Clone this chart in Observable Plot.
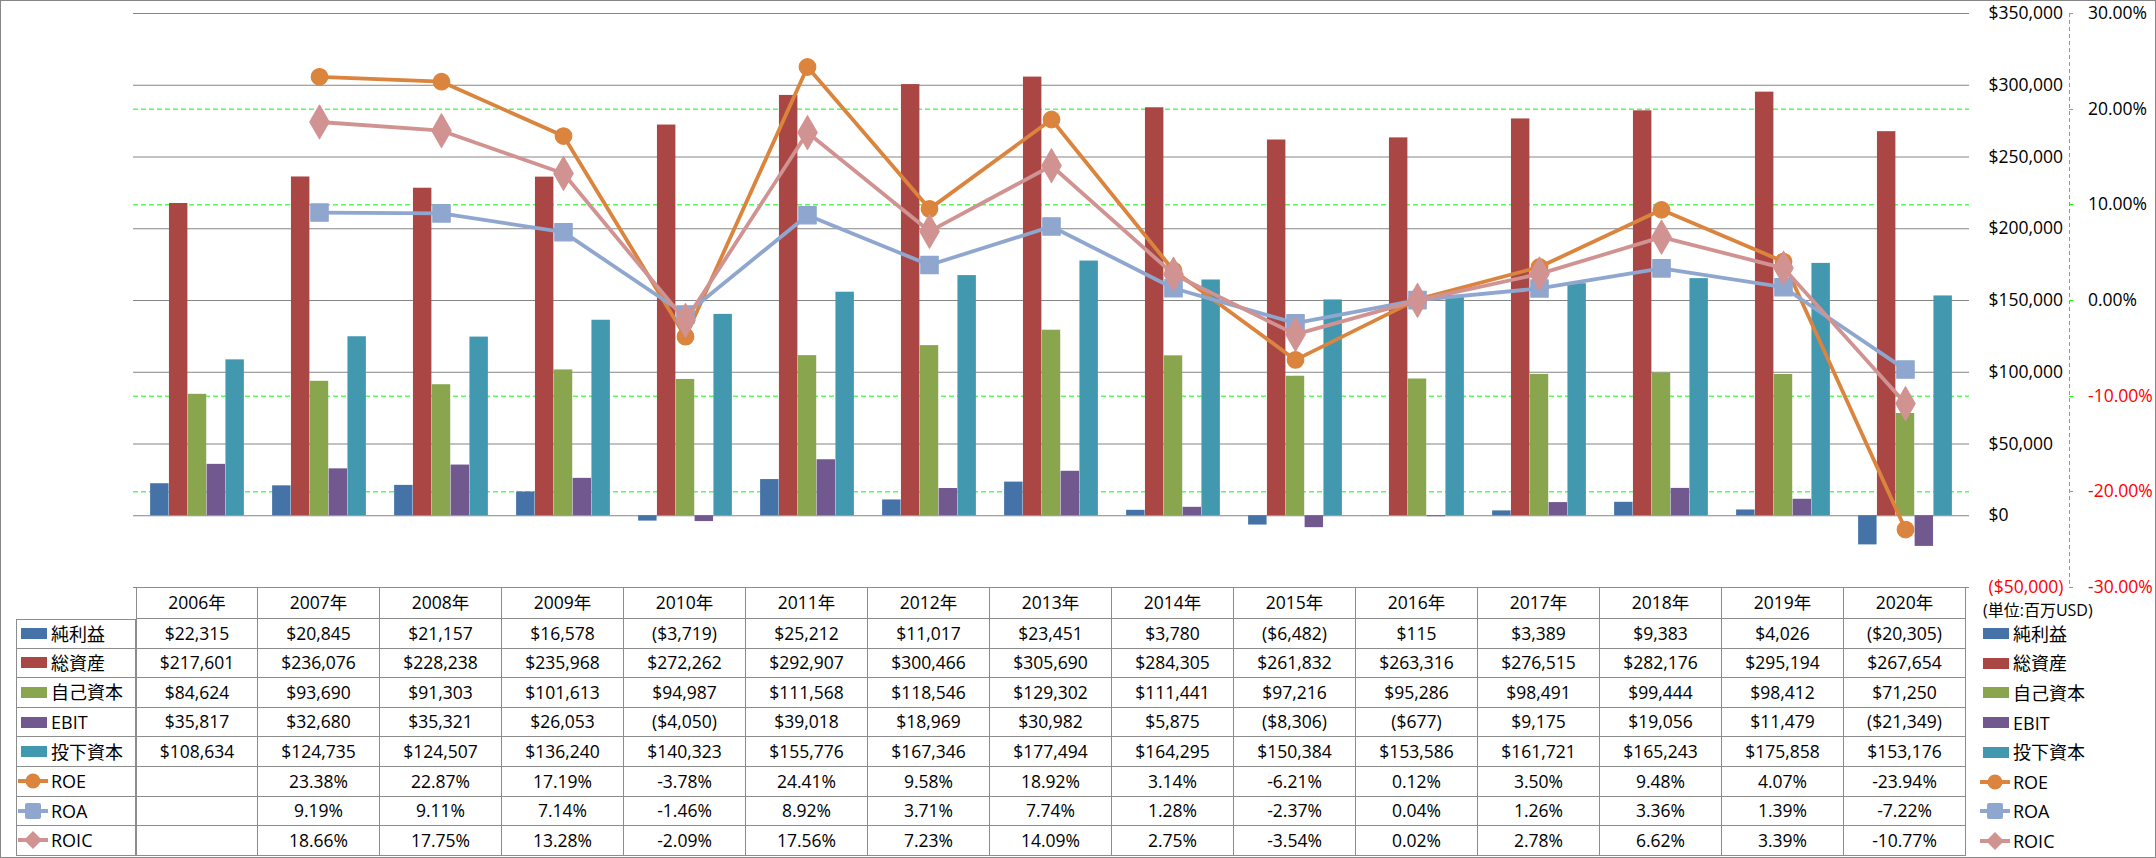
<!DOCTYPE html>
<html><head><meta charset="utf-8">
<script src="https://cdn.jsdelivr.net/npm/d3@7"></script>
<script src="https://cdn.jsdelivr.net/npm/@observablehq/plot@0.6"></script>
<style>
html,body{margin:0;padding:0;background:#fff;}
#wrap{position:relative;width:2156px;height:858px;overflow:hidden;font-family:"Open Sans","Noto Sans CJK JP",sans-serif;color:#000;}
#frame{position:absolute;left:0;top:0;width:2156px;height:858px;box-sizing:border-box;border:1px solid #868686;pointer-events:none;}
#chart{position:absolute;left:0;top:0;}
.cell{position:absolute;box-sizing:border-box;display:flex;align-items:center;justify-content:center;font-size:17.5px;white-space:nowrap;line-height:1;}
.lab{justify-content:flex-start;font-size:18px;}
.sw{display:inline-block;width:26px;height:11px;margin:0 4px 0 4px;}
.lg{display:inline-block;width:30px;height:20px;margin:0 3px 0 1px;}
</style></head>
<body><div id="wrap"><div id="chart"></div><div id="frame"></div></div>
<script>
const years = ["2006年","2007年","2008年","2009年","2010年","2011年","2012年","2013年","2014年","2015年","2016年","2017年","2018年","2019年","2020年"];
const netIncome = [22315,20845,21157,16578,-3719,25212,11017,23451,3780,-6482,115,3389,9383,4026,-20305];
const totalAssets = [217601,236076,228238,235968,272262,292907,300466,305690,284305,261832,263316,276515,282176,295194,267654];
const equity = [84624,93690,91303,101613,94987,111568,118546,129302,111441,97216,95286,98491,99444,98412,71250];
const ebit = [35817,32680,35321,26053,-4050,39018,18969,30982,5875,-8306,-677,9175,19056,11479,-21349];
const investedCapital = [108634,124735,124507,136240,140323,155776,167346,177494,164295,150384,153586,161721,165243,175858,153176];
const roe = [null,23.38,22.87,17.19,-3.78,24.41,9.58,18.92,3.14,-6.21,0.12,3.50,9.48,4.07,-23.94];
const roa = [null,9.19,9.11,7.14,-1.46,8.92,3.71,7.74,1.28,-2.37,0.04,1.26,3.36,1.39,-7.22];
const roic = [null,18.66,17.75,13.28,-2.09,17.56,7.23,14.09,2.75,-3.54,0.02,2.78,6.62,3.39,-10.77];
const barNames = ["純利益","総資産","自己資本","EBIT","投下資本"];
const lineNames = ["ROE","ROA","ROIC"];
const usdTicks = [-50000,0,50000,100000,150000,200000,250000,300000,350000];
const pctTicks = [-30,-20,-10,0,10,20,30];
const unitLabel = "(単位:百万USD)";

const barColors = ["#4572A7","#AA4643","#89A54E","#71588F","#4198AF"];
const lineColors = ["#DB843D","#8FA7CF","#D19392"];
const lineSymbols = ["circle","square","diamond"];
const barSeries = [netIncome,totalAssets,equity,ebit,investedCapital];
const lineSeries = [roe,roa,roic];

const usdDomain = [d3.min(usdTicks), d3.max(usdTicks)];
const pctDomain = [d3.min(pctTicks), d3.max(pctTicks)];
const pctToUsd = d3.scaleLinear().domain(pctDomain).range(usdDomain);
const fmtComma = d3.format(",");
const fmtUsd = v => v < 0 ? `($${fmtComma(-v)})` : `$${fmtComma(v)}`;
const fmtPct = v => v == null ? "" : `${v.toFixed(2)}%`;

const W = 2156, H = 600, mL = 133, mR = 187, mT = 13, mB = 13;
const bw = (W - mL - mR) / years.length;
const barW = bw / (barNames.length + 1.5);
const FONT = "'Open Sans','Noto Sans CJK JP',sans-serif";

const marks = [];
// percent gridlines (green dashed)
marks.push(Plot.ruleY(pctTicks, {y: p => pctToUsd(p), stroke: "#00ff00", strokeDasharray: "5,3", strokeWidth: 1}));
// dollar gridlines
marks.push(Plot.ruleY(usdTicks, {stroke: "#868686", strokeWidth: 1}));
// bars
barSeries.forEach((vals, k) => {
  const data = years.map((y, i) => ({year: y, value: vals[i]}));
  marks.push(Plot.barY(data, {
    x: "year", y: "value", fill: barColors[k],
    dx: (k - (barNames.length - 1) / 2) * barW,
    insetLeft: (bw - barW) / 2, insetRight: (bw - barW) / 2
  }));
});
// lines + markers
lineSeries.forEach((vals, k) => {
  const data = years.map((y, i) => ({year: y, value: vals[i]})).filter(d => d.value != null);
  marks.push(Plot.line(data, {x: "year", y: d => pctToUsd(d.value), stroke: lineColors[k], strokeWidth: 3.8, strokeLinejoin: "round"}));
  marks.push(Plot.dot(data, {x: "year", y: d => pctToUsd(d.value), symbol: lineSymbols[k], r: k === 0 ? 8.3 : (k === 1 ? 9.8 : 10.2), fill: lineColors[k], stroke: lineColors[k], strokeWidth: 1.2, strokeLinejoin: "round"}));
});
// plot right border
marks.push(Plot.ruleX([null], {y1: usdDomain[0], y2: usdDomain[1], dx: (W - mL - mR) / 2, stroke: "#868686"}));
// dollar axis labels
marks.push(Plot.text(usdTicks, {y: d => d, text: fmtUsd, frameAnchor: "right", dx: 19, textAnchor: "start", fontSize: 17.5, fill: d => d < 0 ? "red" : "black"}));
// percent axis labels
marks.push(Plot.text(pctTicks, {y: p => pctToUsd(p), text: p => `${p.toFixed(2)}%`, frameAnchor: "right", dx: 118.5, textAnchor: "start", fontSize: 17.5, fill: p => p < 0 ? "red" : "black"}));

const chart = Plot.plot({
  width: W, height: H,
  marginLeft: mL, marginRight: mR, marginTop: mT, marginBottom: mB,
  x: {type: "band", domain: years, padding: 0, axis: null},
  y: {domain: usdDomain, axis: null},
  color: {type: "identity"},
  style: {fontFamily: FONT, fontSize: "17.5px", background: "transparent", overflow: "visible", color: "black"},
  marks
});
document.getElementById("chart").appendChild(chart);

// secondary (percent) axis line with ticks
const ys = chart.scale("y");
const xs = chart.scale("x");
const frameRight = W - mR;
const axX = frameRight + 100;
const svg = d3.select(chart);
const ag = svg.append("g").attr("stroke", "#00ff00").attr("stroke-dasharray", "4,3");
ag.append("line").attr("x1", axX + 0.5).attr("x2", axX + 0.5).attr("y1", ys.apply(usdDomain[1])).attr("y2", ys.apply(usdDomain[0]));
pctTicks.forEach(p => {
  const y = Math.round(ys.apply(pctToUsd(p))) + 0.5;
  ag.append("line").attr("stroke-dasharray", null).attr("x1", axX).attr("x2", axX + 4).attr("y1", y).attr("y2", y);
});

// ---- data table ----
const wrap = document.getElementById("wrap");
const tTop = ys.apply(usdDomain[0]);
const headH = 32, rowH = 29.6;
const labL = 16;
const colL = xs.apply(years[0]);
const BORDER = "1px solid #8c8c8c";
function cell(x, y, w, h, html, cls, borders) {
  const d = document.createElement("div");
  d.className = "cell " + (cls || "");
  Object.assign(d.style, {left: x + "px", top: y + "px", width: w + "px", height: h + "px"});
  if (borders) {
    d.style.borderRight = BORDER; d.style.borderBottom = BORDER;
    if (borders.top) d.style.borderTop = BORDER;
    if (borders.left) d.style.borderLeft = BORDER;
  }
  d.innerHTML = html;
  wrap.appendChild(d);
  return d;
}
function legendIcon(k, isLine) {
  if (!isLine) return `<span class="sw" style="background:${barColors[k]}"></span>`;
  const c = lineColors[k];
  let m;
  if (lineSymbols[k] === "circle") m = `<circle cx="15" cy="10" r="7.5" fill="${c}"/>`;
  else if (lineSymbols[k] === "square") m = `<rect x="7" y="2" width="16" height="16" rx="2" fill="${c}"/>`;
  else m = `<path d="M15 1 L24 10 L15 19 L6 10 Z" fill="${c}"/>`;
  return `<svg class="lg" viewBox="0 0 30 20"><line x1="0" x2="30" y1="10" y2="10" stroke="${c}" stroke-width="4"/>${m}</svg>`;
}
// header
years.forEach((yr, i) => {
  cell(xs.apply(yr), tTop, xs.bandwidth, headH, yr, "", {top: true, left: i === 0});
});
const unit = cell(frameRight + 14, tTop + 12, 180, 22, unitLabel, "lab", null);
unit.style.fontSize = "16px";
const rows = [
  ...barNames.map((n, k) => ({name: n, k, isLine: false, vals: barSeries[k].map(fmtUsd)})),
  ...lineNames.map((n, k) => ({name: n, k, isLine: true, vals: lineSeries[k].map(fmtPct)}))
];
rows.forEach((r, j) => {
  const y = tTop + headH + j * rowH;
  cell(labL, y, colL - labL, rowH, legendIcon(r.k, r.isLine) + `<span>${r.name}</span>`, "lab", {top: j === 0, left: true});
  years.forEach((yr, i) => {
    cell(xs.apply(yr), y, xs.bandwidth, rowH, r.vals[i], "", {top: false, left: i === 0});
  });
  cell(frameRight + 10, y, 180, rowH, legendIcon(r.k, r.isLine).replace('margin:0 4px 0 4px', '') + `<span>${r.name}</span>`, "lab", null);
});
</script>
</body></html>
